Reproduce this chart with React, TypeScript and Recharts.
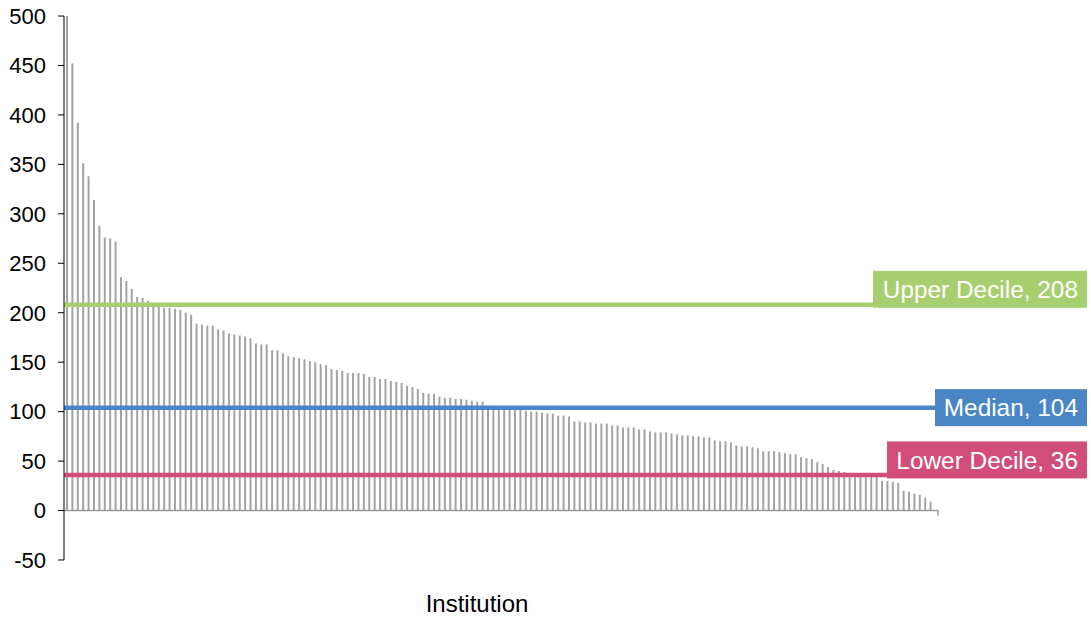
import { BarChart, Bar, XAxis, YAxis, ReferenceLine } from 'recharts';

const institutions: number[] = [
  500, 452, 392, 351, 338, 314, 288, 276, 275, 272,
  236, 232, 224, 216, 215, 212, 207, 206, 205, 205,
  204, 203, 200, 198, 189, 188, 187, 187, 183, 182,
  179, 178, 177, 176, 174, 169, 168, 168, 162, 162,
  159, 156, 155, 154, 153, 151, 150, 148, 147, 143,
  142, 141, 139, 139, 139, 138, 135, 135, 133, 133,
  131, 130, 129, 126, 125, 123, 119, 118, 118, 115,
  114, 114, 113, 113, 112, 111, 110, 110, 106, 106,
  105, 104, 104, 103, 102, 101, 100, 100, 99, 98,
  98, 96, 96, 95, 90, 90, 89, 89, 88, 88,
  88, 86, 86, 84, 84, 84, 82, 82, 80, 79,
  79, 79, 78, 77, 76, 76, 75, 75, 74, 74,
  71, 70, 70, 69, 66, 65, 65, 64, 63, 60,
  60, 60, 59, 58, 57, 57, 54, 53, 52, 49,
  47, 44, 41, 40, 39, 38, 37, 37, 36, 35,
  35, 30, 30, 29, 28, 20, 19, 17, 16, 13,
  9,
];

const yTicks = [-50, 0, 50, 100, 150, 200, 250, 300, 350, 400, 450, 500];

const markerNames = ['Upper Decile', 'Median', 'Lower Decile'];
const markerValues = [208, 104, 36];

const W = 1091;
const H = 619;
const FONT = '"Liberation Sans", Arial, sans-serif';

// label box styling per marker (colour, box width, box offset from line)
const markerStyle = [
  { color: '#a8cf6f', boxW: 214, boxDy: -34 },
  { color: '#4a86c6', boxW: 152, boxDy: -18.5 },
  { color: '#d14e7a', boxW: 200, boxDy: -33.5 },
];

const data = institutions.map((v, i) => ({ name: `Inst ${i + 1}`, value: v }));

const markerShape = (idx: number) => (props: any) => {
  const { x1, y1 } = props;
  const s = markerStyle[idx];
  const right = W - 4;
  const boxH = 37;
  return (
    <g>
      <line x1={x1} y1={y1} x2={right} y2={y1} stroke={s.color} strokeWidth={4.5} />
      <rect x={right - s.boxW} y={y1 + s.boxDy} width={s.boxW} height={boxH} fill={s.color} />
      <text
        x={right - 9}
        y={y1 + s.boxDy + boxH / 2}
        dy="0.36em"
        textAnchor="end"
        fill="#fff"
        fontSize={24.4}
        fontFamily={FONT}
      >
        {`${markerNames[idx]}, ${markerValues[idx]}`}
      </text>
    </g>
  );
};

const zeroShape = (props: any) => {
  const { x1, x2, y1 } = props;
  return (
    <g>
      <line x1={x1} y1={y1} x2={x2} y2={y1} stroke="#9a9a9a" strokeWidth={1.5} />
      <line x1={x2} y1={y1} x2={x2} y2={y1 + 5} stroke="#9a9a9a" strokeWidth={1.5} />
    </g>
  );
};

export default function App() {
  return (
    <div style={{ position: 'absolute', left: 0, top: 0, width: W, height: H, background: '#fff' }}>
      <BarChart
        width={W}
        height={H}
        data={data}
        margin={{ top: 16, right: 153, bottom: 59, left: 0 }}
      >
        <XAxis dataKey="name" hide padding={{ left: 0, right: 5 }} />
        <YAxis
          width={64}
          domain={[-50, 500]}
          ticks={yTicks}
          interval={0}
          axisLine={{ stroke: '#000', strokeWidth: 1 }}
          tickLine={{ stroke: '#000' }}
          tickSize={6}
          tickMargin={12}
          tick={{ fill: '#000', fontSize: 22, fontFamily: FONT }}
        />
        <Bar dataKey="value" fill="#a3a3a3" barSize={2} isAnimationActive={false} />
        <ReferenceLine y={0} shape={zeroShape} />
        {markerValues.map((v, i) => (
          <ReferenceLine key={markerNames[i]} y={v} shape={markerShape(i)} />
        ))}
      </BarChart>
      <div
        style={{
          position: 'absolute',
          left: 327,
          width: 300,
          top: 590,
          textAlign: 'center',
          fontFamily: FONT,
          fontSize: 24,
          color: '#000',
        }}
      >
        Institution
      </div>
    </div>
  );
}
